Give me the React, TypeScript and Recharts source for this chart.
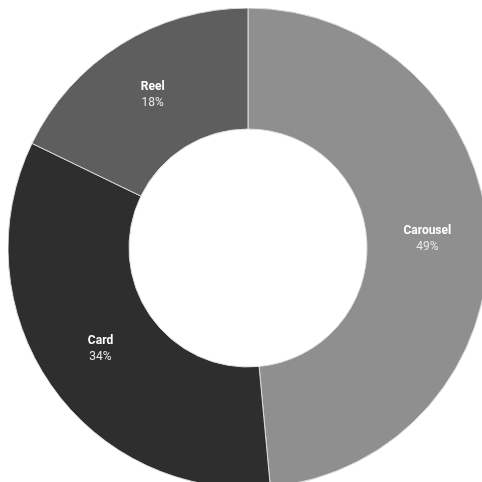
import { Cell, Pie, PieChart } from "recharts";

const categories = ["Carousel", "Card", "Reel"];
const shares = [49, 34, 18];
const colors = ["#8f8f8f", "#2e2e2e", "#5e5e5e"];

const data = categories.map((name, i) => ({ name, value: shares[i] }));

const RAD = Math.PI / 180;

function SliceLabel(props: any) {
  const { cx, cy, midAngle, innerRadius, outerRadius, name, value } = props;
  const r = (innerRadius + outerRadius) / 2;
  const x = cx + r * Math.cos(-midAngle * RAD);
  const y = cy + r * Math.sin(-midAngle * RAD);
  return (
    <text x={x} y={y} textAnchor="middle" fontFamily="Roboto" fontSize={12}>
      <tspan x={x} y={y - 6} fill="#ffffff" fontWeight="bold">
        {name}
      </tspan>
      <tspan x={x} y={y + 10} fill="#e8e8e8">
        {value}%
      </tspan>
    </text>
  );
}

export default function App() {
  // fixed so the oversized donut is clipped by the window without scrollbars
  return (
    <div style={{ position: "fixed", left: 8, top: 8, width: 474, height: 474, overflow: "hidden" }}>
      <PieChart width={480} height={480} margin={{ top: 0, right: 0, bottom: 0, left: 0 }}>
        <Pie
          data={data}
          dataKey="value"
          nameKey="name"
          startAngle={90}
          endAngle={-270}
          innerRadius={119}
          outerRadius={240}
          stroke="#dddddd"
          strokeWidth={1}
          labelLine={false}
          label={SliceLabel}
          isAnimationActive={false}
        >
          {data.map((d, i) => (
            <Cell key={d.name} fill={colors[i]} />
          ))}
        </Pie>
      </PieChart>
    </div>
  );
}
